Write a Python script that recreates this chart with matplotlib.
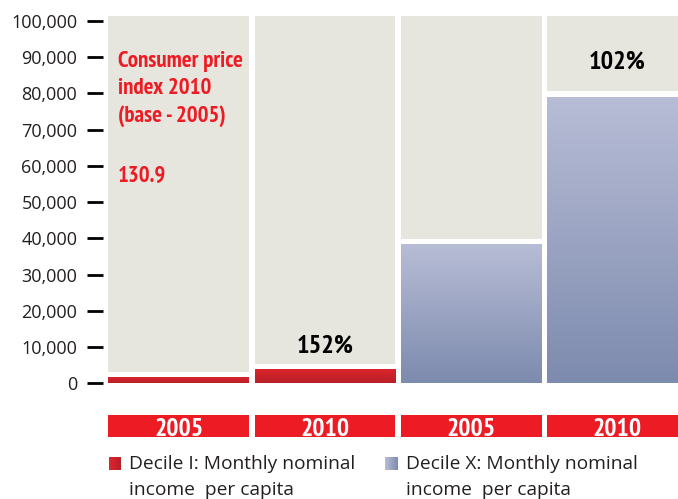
import matplotlib
matplotlib.use("Agg")
import matplotlib.pyplot as plt
import numpy as np
from matplotlib.colors import LinearSegmentedColormap

# data
years = ["2005", "2010", "2005", "2010"]
income = [1800, 3900, 38400, 79000]          # monthly nominal income per capita
groups = ["Decile I", "Decile I", "Decile X", "Decile X"]
growth_labels = ["152%", "102%"]
yticks = list(range(0, 100001, 10000))
cpi_lines = ["Consumer price", "index 2010", "(base - 2005)"]
cpi_value = "130.9"
legend_labels = ["Decile I: Monthly nominal\nincome  per capita",
                 "Decile X: Monthly nominal\nincome  per capita"]

RED = "#ed1c24"
GREY = "#e6e5de"
TXT = "#231f20"
cond = ["PT Sans Narrow", "DejaVu Sans"]
reg = ["Open Sans", "DejaVu Sans"]

red_cmap = LinearSegmentedColormap.from_list("r", ["#b81f27", "#de262e"])
blue_cmap = LinearSegmentedColormap.from_list("b", ["#7d8bae", "#b8bdd6"])

W, H = 678, 499
fig = plt.figure(figsize=(W / 100, H / 100), dpi=100)
ax = fig.add_axes([105.7 / W, 0.1152, 4 * 146.2 / W, 0.8651])

x = np.arange(len(income))
bw = 0.964
gap = 1500
top = 101300

# grey background columns above each bar
ax.bar(x, [top - (v + gap) for v in income], bottom=[v + gap for v in income],
       width=bw, color=GREY, zorder=1)

# value bars with vertical gradient
bars = ax.bar(x, income, width=bw, color="none", zorder=2)
for b, g in zip(bars, groups):
    cm = red_cmap if g == "Decile I" else blue_cmap
    x0, y0 = b.get_x(), b.get_y()
    grad = np.linspace(0, 1, 256).reshape(-1, 1)
    im = ax.imshow(grad, cmap=cm, origin="lower", aspect="auto",
                   extent=(x0, x0 + b.get_width(), y0, y0 + b.get_height()),
                   zorder=2)
    im.set_clip_path(b)

# red year strips under the axis
strip_lo, strip_hi = -14750, -8680
ax.bar(x, strip_hi - strip_lo, bottom=strip_lo, width=bw, color=RED, zorder=1)
for xi, yr in zip(x, years):
    ax.text(xi, -14400, yr, ha="center", va="baseline",
            color="white", fontsize=18.5, fontweight="bold", family=cond)

ax.text(1, 8490, growth_labels[0], ha="center", va="baseline", fontsize=19,
        fontweight="bold", family=cond, color="black", zorder=3)
ax.text(3, 86880, growth_labels[1], ha="center", va="baseline", fontsize=19,
        fontweight="bold", family=cond, color="black", zorder=3)

ax.set_xlim(-0.5, 3.5)
ax.set_ylim(-16000, 103000)
ax.set_yticks(yticks)
ax.set_yticklabels([f"{t:,}" for t in yticks])
ax.set_xticks([])
for s in ax.spines.values():
    s.set_visible(False)
ax.spines["left"].set_position(("outward", 2))
ax.tick_params(axis="y", direction="out", length=11.5, width=2, color="black", pad=7,
               labelsize=13, labelcolor=TXT, labelfontfamily="Open Sans")

# CPI note
for i, line in enumerate(cpi_lines):
    fig.text(118 / W, 1 - (67 + 27.5 * i) / H, line, ha="left", va="baseline",
             color=RED, fontsize=16.5, fontweight="bold", family=cond)
fig.text(118 / W, 1 - 182 / H, cpi_value, ha="left", va="baseline", color=RED,
         fontsize=16.5, fontweight="bold", family=cond)

# legend drawn by hand
leg = [(109, red_cmap, legend_labels[0], 129), (385, blue_cmap, legend_labels[1], 406)]
for sx, cm, lab, tx in leg:
    ax_l = fig.add_axes([sx / W, 1 - 470 / H, 12 / W, 13 / H])
    ax_l.imshow(np.linspace(1, 0, 64).reshape(1, -1), cmap=cm, aspect="auto")
    ax_l.axis("off")
    for j, part in enumerate(lab.split("\n")):
        fig.text(tx / W, 1 - (469 + 26 * j) / H, part, ha="left", va="baseline",
                 fontsize=13.8, family=reg, color=TXT)

fig.savefig("out.png", dpi=100)
